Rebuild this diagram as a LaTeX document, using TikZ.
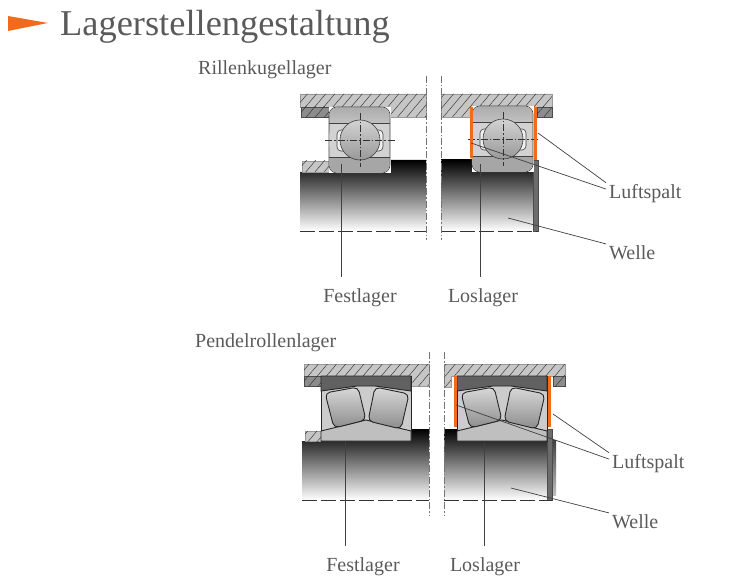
\documentclass[tikz,border=0pt]{standalone}
\usepackage{fontspec}
\setmainfont{Liberation Serif}
\usetikzlibrary{patterns.meta}
\definecolor{txtgray}{HTML}{5A5A5A}
\definecolor{accent}{HTML}{F26A1B}
\tikzset{
    lbl/.style={text=txtgray, font=\fontsize{20}{22}\selectfont, inner xsep=3pt, inner ysep=0pt},
    footlbl/.style={lbl, anchor=base, inner ysep=11pt},
    leader/.style={draw=black!75, line width=.7pt},
    housing/.style={fill=gray!45, draw=gray!80, line width=.5pt, postaction={pattern={Lines[angle=50,distance=7pt,line width=.45pt]}, pattern color=black!80}},
    cover/.style={fill=gray!90, draw=black!70, line width=.5pt, postaction={pattern={Lines[angle=50,distance=7pt,line width=.45pt]}, pattern color=black!80}},
    shaft/.style={top color=black, middle color=gray!95, bottom color=white},
    gap/.style={fill=accent},
    disc/.style={fill=gray!85!black, draw=black!70, line width=.4pt},
    centerline/.style={draw=black!55, line width=.7pt, dash pattern=on 7pt off 2pt on 1.5pt off 2pt},
    ballaxis/.style={centerline, draw=black!80},
    baseline dash/.style={draw=black!80, line width=.8pt, dash pattern=on 15pt off 4pt},
    contour/.style={draw=black!75, line width=.6pt},
    rollcontour/.style={draw=black!85, line width=.9pt}
}
\begin{document}
\begin{tikzpicture}[x=1pt, y=-1pt]
    \useasboundingbox (0,0) rectangle (750,580);
    % heading
    \fill[accent] (8,16) -- (48,23) -- (8,31) -- cycle;
    \node[lbl, anchor=base west, inner sep=0pt, font=\fontsize{36.4}{40}\selectfont] (title) at (60,36) {Lagerstellengestaltung};
    \node[lbl, anchor=base west, inner sep=0pt] (rillen) at (198,75) {Rillenkugellager};
    \node[lbl, anchor=base west, inner sep=0pt] (pendel) at (195,347) {Pendelrollenlager};

    % shafts
    \shade[shaft] (300,172) -- (390,172) -- (390,160) -- (426,160) -- (426,231) -- (300,231) -- cycle;
    \shade[shaft] (441,160) -- (533,160) -- (533,231) -- (441,231) -- cycle;
    \shade[shaft] (302,441) -- (411,441) -- (411,429) -- (429,429) -- (429,500) -- (302,500) -- cycle;
    \shade[shaft] (444,429) -- (547,429) -- (547,500) -- (444,500) -- cycle;
    \shade[top color=black!75, bottom color=black!25] (552,440) rectangle (556,495);
    \draw[disc] (533,160) rectangle (538,231);
    \draw[disc] (547,429) rectangle (552,500);
    \draw[baseline dash] (300,231) -- (426,231);
    \draw[baseline dash] (441,231) -- (538,231);
    \draw[baseline dash] (302,500) -- (429,500);
    \draw[baseline dash] (444,500) -- (552,500);

    % housings
    \draw[housing] (300,94) -- (426,94) -- (426,117) -- (390,117) -- (390,107) -- (300,107) -- cycle;
    \draw[housing] (441,94) -- (552,94) -- (552,107) -- (470,107) -- (470,117) -- (441,117) -- cycle;
    \draw[housing] (304,364) -- (429,364) -- (429,386) -- (411,386) -- (411,376) -- (304,376) -- cycle;
    \draw[housing] (444,364) -- (565,364) -- (565,376) -- (451,376) -- (451,387) -- (444,387) -- cycle;
    \draw[cover] (301,107) rectangle (330,117);
    \draw[cover] (537,107) rectangle (552,117);
    \draw[cover] (304,376) rectangle (321,386);
    \draw[cover] (553,376) rectangle (565,386);
    \draw[housing] (302,161) rectangle (329,172);
    \draw[housing] (305,431) rectangle (321,441);

    % ball bearings
    \foreach \cx/\cy in {360/140, 503/139} {
        \fill[white] (\cx-31,\cy-33) rectangle (\cx+31,\cy+33);
        \shade[top color=gray!65, bottom color=gray!30, rounded corners=8pt] (\cx-30.5,\cy-32.5) -- (\cx+29.5,\cy-32.5) -- (\cx+29.5,\cy) -- (\cx-30.5,\cy) -- cycle;
        \fill[gray!35] (\cx-30.5,\cy-17) rectangle (\cx+29.5,\cy+17);
        \fill[gray!70, rounded corners=8pt] (\cx-30.5,\cy) -- (\cx+29.5,\cy) -- (\cx+29.5,\cy+32.5) -- (\cx-30.5,\cy+32.5) -- cycle;
        \fill[gray!35] (\cx-30.5,\cy-3) rectangle (\cx+29.5,\cy+17);
        \draw[contour, rounded corners=8pt] (\cx-31,\cy-33) rectangle (\cx+30,\cy+33);
        \draw[contour] (\cx-31,\cy-17) -- (\cx+30,\cy-17);
        \draw[contour] (\cx-31,\cy+17) -- (\cx+30,\cy+17);
        \draw[contour, fill=gray!12, rounded corners=4pt] (\cx-23,\cy-10) rectangle (\cx+23,\cy+11);
        \shade[top color=gray!35, bottom color=gray!80] (\cx,\cy) circle (20);
        \draw[contour] (\cx,\cy) circle (20);
        \draw[ballaxis] (\cx-35,\cy) -- (\cx+35,\cy);
        \draw[ballaxis] (\cx,\cy-27) -- (\cx,\cy+27);
    }

    % roller bearings
    \foreach \cx/\rx in {366/45, 502/45} {
        \fill[white] (\cx-\rx,376) rectangle (\cx+\rx,441);
        \draw[rollcontour, fill=gray!40] (\cx-\rx,376) rectangle (\cx+\rx,441);
        \draw[rollcontour, fill=black!62] (\cx-\rx,376) -- (\cx+\rx,376) -- (\cx+\rx,391) -- (\cx+9,386) -- (\cx-9,386) -- (\cx-\rx,391) -- cycle;
        \draw[rollcontour, fill=gray!50] (\cx-\rx,431) -- (\cx,420) -- (\cx+\rx,431) -- (\cx+\rx,441) -- (\cx-\rx,441) -- cycle;
        \shade[rollcontour, top color=gray!30, bottom color=gray!90, rounded corners=5pt] (\cx-41,393) -- (\cx-8,387) -- (\cx,420) -- (\cx-32,428) -- cycle;
        \shade[rollcontour, top color=gray!30, bottom color=gray!90, rounded corners=5pt] (\cx+9,387) -- (\cx+43,394) -- (\cx+35,429) -- (\cx+2,421) -- cycle;
    }

    % air gaps
    \fill[gap] (469.5,107) rectangle (472.5,158);
    \fill[gap] (533.5,107) rectangle (536.5,160);
    \fill[gap] (453.5,376) rectangle (456.5,427);
    \fill[gap] (548,376) rectangle (551,427);

    % center lines
    \draw[centerline] (426,76) -- (426,240);
    \draw[centerline] (441,76) -- (441,240);
    \draw[centerline] (429,352) -- (429,515);
    \draw[centerline] (444,352) -- (444,515);

    % labels
    \node[footlbl] (festA) at (360,302) {Festlager};
    \node[footlbl] (losA) at (483,302) {Loslager};
    \node[lbl, anchor=base west] (luftA) at (606,199) {Luftspalt};
    \node[lbl, anchor=base west] (welleA) at (606,260) {Welle};
    \node[footlbl] (festB) at (363,571) {Festlager};
    \node[footlbl] (losB) at (485,571) {Loslager};
    \node[lbl, anchor=base west] (luftB) at (609,468) {Luftspalt};
    \node[lbl, anchor=base west] (welleB) at (609,528) {Welle};

    % free ends of the leaders
    \coordinate (bearFestA) at (341.5,164);
    \coordinate (bearLosA) at (480,164);
    \coordinate (gapRA) at (538,133);
    \coordinate (gapLA) at (471,143);
    \coordinate (shaftA) at (508,218);
    \coordinate (bearFestB) at (345,441);
    \coordinate (bearLosB) at (484,442);
    \coordinate (gapRB) at (553,414);
    \coordinate (gapLB) at (456,405);
    \coordinate (shaftB) at (511,488);

    \draw[leader] (bearFestA) -- (bearFestA |- festA.north);
    \draw[leader] (bearLosA) -- (bearLosA |- losA.north);
    \draw[leader] (gapRA) -- ([yshift=2pt]luftA.north west);
    \draw[leader] (gapLA) -- ([yshift=5pt]luftA.west);
    \draw[leader] (shaftA) -- ([yshift=2pt]welleA.north west);
    \draw[leader] (bearFestB) -- (bearFestB |- festB.north);
    \draw[leader] (bearLosB) -- (bearLosB |- losB.north);
    \draw[leader] (gapRB) -- ([yshift=1pt]luftB.north west);
    \draw[leader] (gapLB) -- ([yshift=4pt]luftB.west);
    \draw[leader] (shaftB) -- ([yshift=1pt]welleB.north west);
\end{tikzpicture}
\end{document}
